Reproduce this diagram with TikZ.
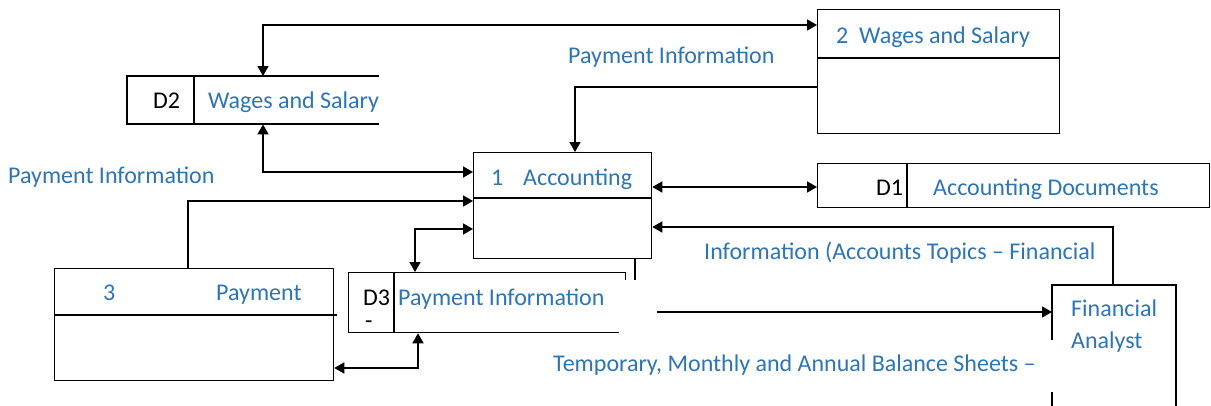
\documentclass[tikz,border=0pt]{standalone}
\usepackage{fontspec}
\setmainfont{Carlito}
\usetikzlibrary{arrows.meta}
\definecolor{txtblue}{RGB}{46,117,182}
\begin{document}
\begin{tikzpicture}[x=1pt,y=-1pt,
  box/.style={draw=black,line width=1.3pt,rectangle,inner sep=0,anchor=north west},
  ghost/.style={rectangle,inner sep=0,anchor=north west},
  lbl/.style={anchor=base west,inner sep=0,text=txtblue,font=\fontsize{24}{28}\selectfont},
  blk/.style={anchor=base west,inner sep=0,text=black,font=\fontsize{24}{28}\selectfont},
  conn/.style={line width=1.6pt,{Triangle[length=10pt,width=11pt]}-{Triangle[length=10pt,width=11pt]}},
  conn1/.style={line width=1.6pt,-{Triangle[length=10pt,width=11pt]}},
  edge/.style={line width=1.3pt}]
\useasboundingbox (0,0) rectangle (1211,405);
\fill[white] (0,0) rectangle (1211,405);

% process 2
\node[box,minimum width=242pt,minimum height=124pt] (p2) at (817,9) {};
\draw[edge] (817,58) -- (1059,58);
\node[lbl] (p2t) at (836,43) {2\ \ Wages and Salary};

% store D2 (open right)
\node[ghost,minimum width=252pt,minimum height=48pt] (d2) at (127,76) {};
\draw[edge] (379,76) -- (127,76) -- (127,124) -- (379,124);
\draw[edge] (194,76) -- (194,124);
\node[blk] (d2id) at (153,108) {D2};
\node[lbl] (d2t) at (208,108) {Wages and Salary};

% process 1
\node[box,minimum width=178pt,minimum height=106pt] (acc) at (473,152) {};
\draw[edge] (473,198) -- (651,198);
\node[lbl] (acc1) at (491,185) {1};
\node[lbl] (acct) at (523,185) {Accounting};

% store D1
\node[box,minimum width=392pt,minimum height=44pt] (d1) at (817,163) {};
\draw[edge] (907,163) -- (907,207);
\node[blk] (d1id) at (876,195) {D1};
\node[lbl] (d1t) at (933,195) {Accounting Documents};

% process 3
\node[box,minimum width=279pt,minimum height=112pt] (p3) at (54,268) {};
\draw[edge] (54,315) -- (337,315);
\node[lbl] (p3n) at (103,300) {3};
\node[lbl] (p3t) at (216,300) {Payment};

% store D3
\node[box,minimum width=277pt,minimum height=60pt] (d3) at (348,272) {};
\draw[edge] (394,272) -- (394,332);
\node[blk] (d3id) at (363,305) {D3};
\node[blk] (d3dash) at (365,328) {-};
\node[lbl] (d3t) at (398,305) {Payment Information};

% external entity: Financial Analyst
\node[ghost,minimum width=124pt,minimum height=125pt] (fa) at (1052,285) {};
\draw[edge] (1052,340) -- (1052,285) -- (1176,285) -- (1176,410);
\draw[edge] (1052,392) -- (1052,410);
\node[lbl] (fat1) at (1071,316) {Financial};
\node[lbl] (fat2) at (1071,348) {Analyst};

% connectors
\draw[conn] (d2.north -| 263,0) |- (p2.west |- 0,25);
\draw[conn1] (p2.west |- 0,87) -| (acc.north -| 575,0);
\draw[conn] (d2.south -| 263,0) |- (acc.west |- 0,172);
\draw[conn1] (p3.north -| 188,0) |- (acc.west |- 0,201);
\draw[conn] (d3.north -| 415,0) |- (acc.west |- 0,229);
\draw[conn] (acc.east |- 0,187) -- (d1.west |- 0,187);
\draw[conn1] (fa.north -| 1113,0) |- (acc.east |- 0,227);
\draw[conn1] (acc.south -| 635,0) |- (fa.west |- 0,312);
\draw[conn] (p3.east |- 0,368) -| (d3.south -| 418,0);

% white patch hiding the corner
\fill[white] (619,280) rectangle (657,338);

% flow labels
\node[lbl] (l1) at (568,63) {Payment Information};
\node[lbl] (l2) at (8,183) {Payment Information};
\node[lbl] (l3) at (704,259) {Information (Accounts Topics – Financial};
\node[lbl] (l4) at (553,371) {Temporary, Monthly and Annual Balance Sheets –};
\end{tikzpicture}
\end{document}
